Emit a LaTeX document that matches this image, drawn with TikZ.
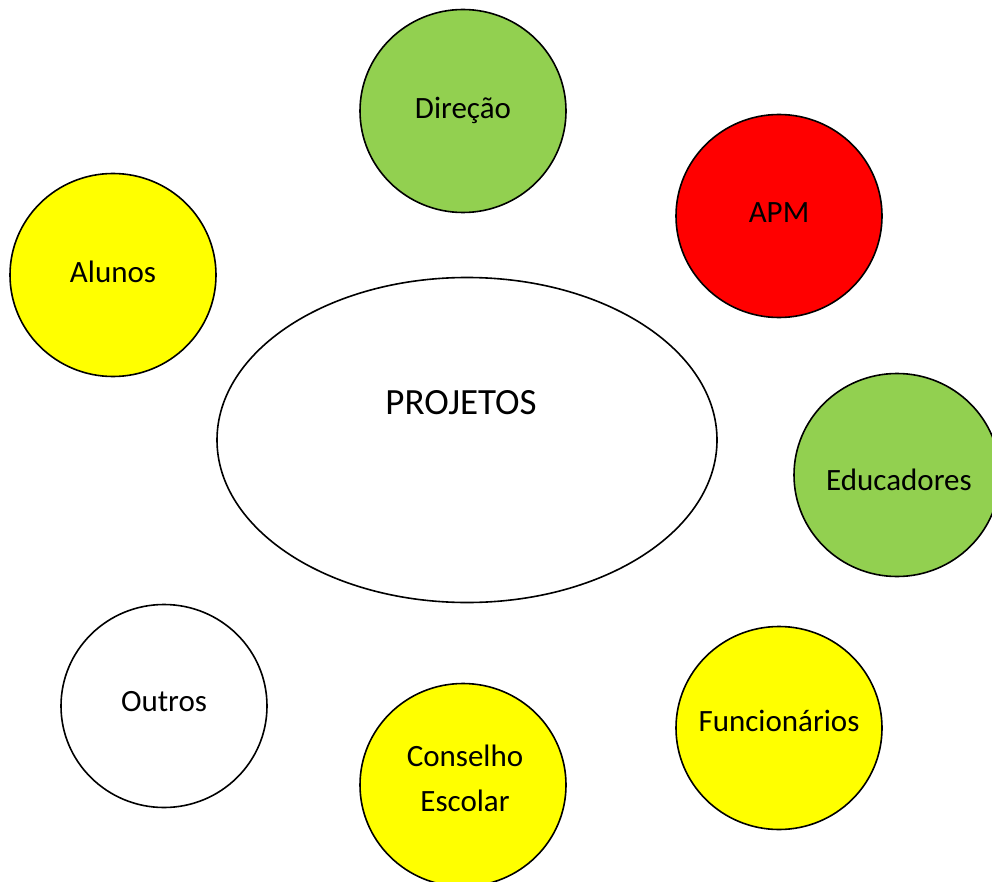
\documentclass[tikz,border=0pt]{standalone}
\usepackage{fontspec}
\setmainfont{Carlito}
\usetikzlibrary{shapes.geometric}
\definecolor{vgreen}{HTML}{92D050}
\definecolor{vred}{HTML}{FF0000}
\definecolor{vyellow}{HTML}{FFFF00}
\begin{document}
\begin{tikzpicture}[x=1pt,y=-1pt,
  bubble/.style={ellipse, draw=black, line width=1.6pt, minimum width=206pt, minimum height=203pt, inner sep=0pt},
  lbl/.style={font=\fontsize{31}{45}\selectfont, align=center, inner sep=0pt}]
\useasboundingbox (0,0) rectangle (992,882);
\clip (0,0) rectangle (992,882);
\node[bubble, fill=vgreen] (dir) at (463,111) {};
\node[lbl] at (463,110) {Direção};
\node[bubble, fill=vred] (apm) at (779,216) {};
\node[lbl] at (779,213) {APM};
\node[bubble, fill=vyellow] (alu) at (113,275) {};
\node[lbl] at (113,272) {Alunos};
\node[ellipse, draw=black, line width=1.6pt, minimum width=500pt, minimum height=325pt, fill=white] (proj) at (467,440) {};
\node[font=\fontsize{37}{44}\selectfont, inner sep=0pt] (projt) at (461,403) {PROJETOS};
\node[bubble, fill=vgreen] (edu) at (897,475) {};
\node[lbl] at (899,480) {Educadores};
\node[bubble, fill=white] (out) at (164,706) {};
\node[lbl] at (164,702) {Outros};
\node[bubble, fill=vyellow] (fun) at (779,728) {};
\node[lbl] at (779,721) {Funcionários};
\node[bubble, fill=vyellow] (con) at (463,785) {};
\node[lbl] at (465,778) {Conselho\\Escolar};
\end{tikzpicture}
\end{document}
